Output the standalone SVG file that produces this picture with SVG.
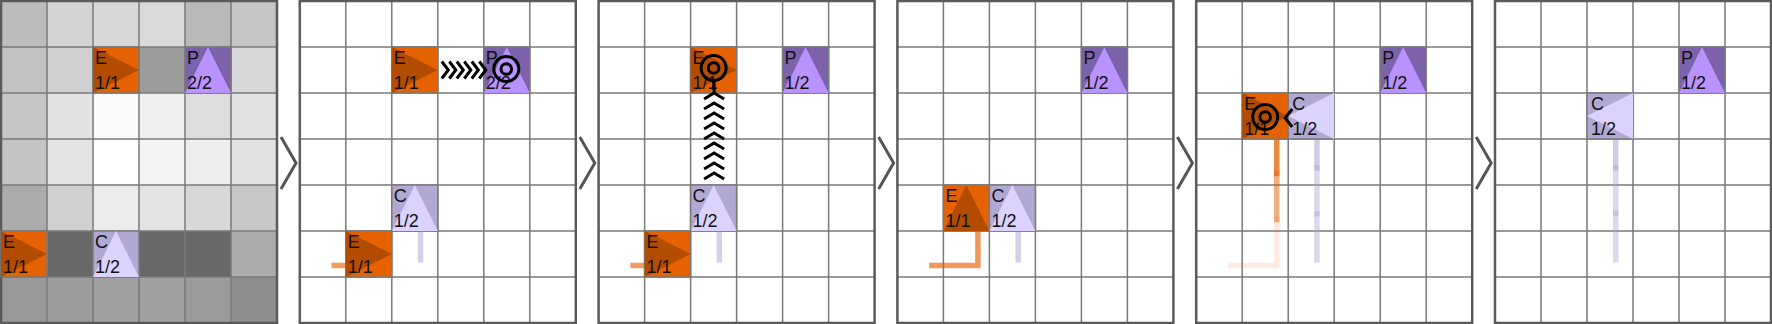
<svg xmlns="http://www.w3.org/2000/svg" width="1772" height="324" viewBox="0 0 1772 324">
<style>
.bg{fill:#ffffff}
.gl{fill:none;stroke:#7a7a7a;stroke-width:1.5}
.gb{fill:none;stroke:#5a5a5a;stroke-width:2.5}
.sep{fill:none;stroke:#555;stroke-width:3}
.eSq{fill:#e66100;stroke:#7a7a7a;stroke-width:1.5}
.eTri{fill:#b44c00}
.pSq{fill:#7b62aa;stroke:#7a7a7a;stroke-width:1.5}
.pTri{fill:#b892fd}
.cSq{fill:#b1a9d3;stroke:#7a7a7a;stroke-width:1.5}
.cTri{fill:#dcd2fe}
.lb{font-family:"Liberation Sans",Arial,sans-serif;font-size:18px;fill:#111}
.to{fill:none;stroke:#e66100;stroke-width:5.5;stroke-linecap:square}
.tc{fill:none;stroke:#aaa2d0;stroke-width:5.5;stroke-linecap:square}
.chev{fill:none;stroke:#000;stroke-width:3}
.tgt{fill:none;stroke:#000;stroke-width:3}
</style>
<defs>
<path id="gridlines" class="gl" d="M46 0V322M92 0V322M138 0V322M184 0V322M230 0V322M0 46H276M0 92H276M0 138H276M0 184H276M0 230H276M0 276H276"/>
<rect id="gridborder" class="gb" x="0" y="0" width="276" height="322"/>
<polygon id="triR" points="0,0 0,46 46,23"/>
<polygon id="triU" points="23,0 0,46 46,46"/>
<polygon id="triL" points="0,23 46,0 46,46"/>
</defs>

<!-- panel backgrounds and grids -->
<g id="panel1" transform="translate(1,1)">
<rect x="0" y="0" width="46" height="46" fill="#bcbcbc"/><rect x="46" y="0" width="46" height="46" fill="#d4d4d4"/><rect x="92" y="0" width="46" height="46" fill="#d8d8d8"/><rect x="138" y="0" width="46" height="46" fill="#d9d9d9"/><rect x="184" y="0" width="46" height="46" fill="#b9b9b9"/><rect x="230" y="0" width="46" height="46" fill="#c6c6c6"/>
<rect x="0" y="46" width="46" height="46" fill="#c2c2c2"/><rect x="46" y="46" width="46" height="46" fill="#d0d0d0"/><rect x="138" y="46" width="46" height="46" fill="#9c9c9c"/><rect x="230" y="46" width="46" height="46" fill="#d8d8d8"/>
<rect x="0" y="92" width="46" height="46" fill="#c6c6c6"/><rect x="46" y="92" width="46" height="46" fill="#e2e2e2"/><rect x="92" y="92" width="46" height="46" fill="#f9f9f9"/><rect x="138" y="92" width="46" height="46" fill="#efefef"/><rect x="184" y="92" width="46" height="46" fill="#dddddd"/><rect x="230" y="92" width="46" height="46" fill="#e2e2e2"/>
<rect x="0" y="138" width="46" height="46" fill="#c4c4c4"/><rect x="46" y="138" width="46" height="46" fill="#e4e4e4"/><rect x="92" y="138" width="46" height="46" fill="#ffffff"/><rect x="138" y="138" width="46" height="46" fill="#f4f4f4"/><rect x="184" y="138" width="46" height="46" fill="#eeeeee"/><rect x="230" y="138" width="46" height="46" fill="#e2e2e2"/>
<rect x="0" y="184" width="46" height="46" fill="#ababab"/><rect x="46" y="184" width="46" height="46" fill="#d0d0d0"/><rect x="92" y="184" width="46" height="46" fill="#ebebeb"/><rect x="138" y="184" width="46" height="46" fill="#e3e3e3"/><rect x="184" y="184" width="46" height="46" fill="#d8d8d8"/><rect x="230" y="184" width="46" height="46" fill="#c7c7c7"/>
<rect x="46" y="230" width="46" height="46" fill="#686868"/><rect x="138" y="230" width="46" height="46" fill="#686868"/><rect x="184" y="230" width="46" height="46" fill="#686868"/><rect x="230" y="230" width="46" height="46" fill="#acacac"/>
<rect x="0" y="276" width="46" height="46" fill="#999999"/><rect x="46" y="276" width="46" height="46" fill="#9c9c9c"/><rect x="92" y="276" width="46" height="46" fill="#a0a0a0"/><rect x="138" y="276" width="46" height="46" fill="#a0a0a0"/><rect x="184" y="276" width="46" height="46" fill="#9b9b9b"/><rect x="230" y="276" width="46" height="46" fill="#8d8d8d"/>
<use href="#gridlines"/><use href="#gridborder"/>
</g>
<g id="panel2" transform="translate(299.8,1)"><rect class="bg" width="276" height="322"/><use href="#gridlines"/><use href="#gridborder"/></g>
<g id="panel3" transform="translate(598.6,1)"><rect class="bg" width="276" height="322"/><use href="#gridlines"/><use href="#gridborder"/></g>
<g id="panel4" transform="translate(897.4,1)"><rect class="bg" width="276" height="322"/><use href="#gridlines"/><use href="#gridborder"/></g>
<g id="panel5" transform="translate(1196.2,1)"><rect class="bg" width="276" height="322"/><use href="#gridlines"/><use href="#gridborder"/></g>
<g id="panel6" transform="translate(1495,1)"><rect class="bg" width="276" height="322"/><use href="#gridlines"/><use href="#gridborder"/></g>

<!-- trails -->
<g id="trails">
<g transform="translate(299.8,1)">
<path class="to" stroke-opacity="0.62" d="M34.5 264.5H80.5"/>
<path class="tc" stroke-opacity="0.5" d="M120.75 212.75V258.75"/>
</g>
<g transform="translate(598.6,1)">
<path class="to" stroke-opacity="0.62" d="M34.5 264.5H80.5"/>
<path class="tc" stroke-opacity="0.5" d="M120.75 212.75V258.75"/>
</g>
<g transform="translate(897.4,1)">
<path class="to" stroke-opacity="0.65" d="M80.5 218.5V264.5H34.5"/>
<path class="tc" stroke-opacity="0.5" d="M120.75 212.75V258.75"/>
</g>
<g transform="translate(1196.2,1)">
<path class="to" stroke-opacity="0.75" d="M80.5 126.5V172.5"/>
<path class="to" stroke-opacity="0.5" d="M80.5 172.5V218.5"/>
<path class="to" stroke-opacity="0.13" d="M80.5 218.5V264.5H34.5"/>
<path class="tc" stroke-opacity="0.55" d="M120.75 120.75V166.75"/>
<path class="tc" stroke-opacity="0.42" d="M120.75 166.75V212.75"/>
<path class="tc" stroke-opacity="0.42" d="M120.75 212.75V258.75"/>
</g>
<g transform="translate(1495,1)">
<path class="tc" stroke-opacity="0.55" d="M120.75 120.75V166.75"/>
<path class="tc" stroke-opacity="0.42" d="M120.75 166.75V212.75"/>
<path class="tc" stroke-opacity="0.42" d="M120.75 212.75V258.75"/>
</g>
</g>

<!-- units: panel 1 -->
<g id="p1-E-a" transform="translate(93,47)"><rect class="eSq" width="46" height="46"/><use href="#triR" class="eTri"/><text class="lb" x="2" y="17">E</text><text class="lb" x="2" y="42">1/1</text></g>
<g id="p1-P" transform="translate(185,47)"><rect class="pSq" width="46" height="46"/><use href="#triU" class="pTri"/><text class="lb" x="2" y="17">P</text><text class="lb" x="2" y="42">2/2</text></g>
<g id="p1-E-b" transform="translate(1,231)"><rect class="eSq" width="46" height="46"/><use href="#triR" class="eTri"/><text class="lb" x="2" y="17">E</text><text class="lb" x="2" y="42">1/1</text></g>
<g id="p1-C" transform="translate(93,231)"><rect class="cSq" width="46" height="46"/><use href="#triU" class="cTri"/><text class="lb" x="2" y="17">C</text><text class="lb" x="2" y="42">1/2</text></g>

<!-- units: panel 2 -->
<g id="p2-E-a" transform="translate(391.8,47)"><rect class="eSq" width="46" height="46"/><use href="#triR" class="eTri"/><text class="lb" x="2" y="17">E</text><text class="lb" x="2" y="42">1/1</text></g>
<g id="p2-P" transform="translate(483.8,47)"><rect class="pSq" width="46" height="46"/><use href="#triU" class="pTri"/><text class="lb" x="2" y="17">P</text><text class="lb" x="2" y="42">2/2</text></g>
<g id="p2-C" transform="translate(391.8,185)"><rect class="cSq" width="46" height="46"/><use href="#triU" class="cTri"/><text class="lb" x="2" y="17">C</text><text class="lb" x="2" y="42">1/2</text></g>
<g id="p2-E-b" transform="translate(345.8,231)"><rect class="eSq" width="46" height="46"/><use href="#triR" class="eTri"/><text class="lb" x="2" y="17">E</text><text class="lb" x="2" y="42">1/1</text></g>

<!-- units: panel 3 -->
<g id="p3-E-a" transform="translate(690.6,47)"><rect class="eSq" width="46" height="46"/><use href="#triR" class="eTri"/><text class="lb" x="2" y="17">E</text><text class="lb" x="2" y="42">1/1</text></g>
<g id="p3-P" transform="translate(782.6,47)"><rect class="pSq" width="46" height="46"/><use href="#triU" class="pTri"/><text class="lb" x="2" y="17">P</text><text class="lb" x="2" y="42">1/2</text></g>
<g id="p3-C" transform="translate(690.6,185)"><rect class="cSq" width="46" height="46"/><use href="#triU" class="cTri"/><text class="lb" x="2" y="17">C</text><text class="lb" x="2" y="42">1/2</text></g>
<g id="p3-E-b" transform="translate(644.6,231)"><rect class="eSq" width="46" height="46"/><use href="#triR" class="eTri"/><text class="lb" x="2" y="17">E</text><text class="lb" x="2" y="42">1/1</text></g>

<!-- units: panel 4 -->
<g id="p4-P" transform="translate(1081.4,47)"><rect class="pSq" width="46" height="46"/><use href="#triU" class="pTri"/><text class="lb" x="2" y="17">P</text><text class="lb" x="2" y="42">1/2</text></g>
<g id="p4-E" transform="translate(943.4,185)"><rect class="eSq" width="46" height="46"/><use href="#triU" class="eTri"/><text class="lb" x="2" y="17">E</text><text class="lb" x="2" y="42">1/1</text></g>
<g id="p4-C" transform="translate(989.4,185)"><rect class="cSq" width="46" height="46"/><use href="#triU" class="cTri"/><text class="lb" x="2" y="17">C</text><text class="lb" x="2" y="42">1/2</text></g>

<!-- units: panel 5 -->
<g id="p5-P" transform="translate(1380.2,47)"><rect class="pSq" width="46" height="46"/><use href="#triU" class="pTri"/><text class="lb" x="2" y="17">P</text><text class="lb" x="2" y="42">1/2</text></g>
<g id="p5-E" transform="translate(1242.2,93)"><rect class="eSq" width="46" height="46"/><use href="#triR" class="eTri"/><text class="lb" x="2" y="17">E</text><text class="lb" x="2" y="42">1/1</text></g>
<g id="p5-C" transform="translate(1288.2,93)"><rect class="cSq" width="46" height="46"/><use href="#triL" class="cTri"/><text class="lb" x="4" y="17">C</text><text class="lb" x="4" y="42">1/2</text></g>

<!-- units: panel 6 -->
<g id="p6-P" transform="translate(1679,47)"><rect class="pSq" width="46" height="46"/><use href="#triU" class="pTri"/><text class="lb" x="2" y="17">P</text><text class="lb" x="2" y="42">1/2</text></g>
<g id="p6-C" transform="translate(1587,93)"><rect class="cSq" width="46" height="46"/><use href="#triL" class="cTri"/><text class="lb" x="4" y="17">C</text><text class="lb" x="4" y="42">1/2</text></g>

<!-- connectors: attack arrows and targets -->
<g id="connectors">
<g transform="translate(299.8,1)">
<polyline class="chev" points="142,60.5 148.5,69 142,77.5"/>
<polyline class="chev" points="149.5,60.5 156,69 149.5,77.5"/>
<polyline class="chev" points="157,60.5 163.5,69 157,77.5"/>
<polyline class="chev" points="164.5,60.5 171,69 164.5,77.5"/>
<polyline class="chev" points="172,60.5 178.5,69 172,77.5"/>
<polyline class="chev" points="179.5,60.5 186,69 179.5,77.5"/>
<circle class="tgt" cx="206.5" cy="68" r="12.5"/>
<circle class="tgt" cx="206.5" cy="68" r="5.3"/>
</g>
<g transform="translate(598.6,1)">
<circle class="tgt" cx="115" cy="67" r="12.5"/>
<circle class="tgt" cx="115" cy="67" r="5.3"/>
<line class="chev" x1="115.5" y1="80" x2="115.5" y2="92"/>
<polyline class="chev" points="105.5,98 115.5,92 125.5,98"/>
<polyline class="chev" points="105.5,108 115.5,102 125.5,108"/>
<polyline class="chev" points="105.5,118 115.5,112 125.5,118"/>
<polyline class="chev" points="105.5,128 115.5,122 125.5,128"/>
<polyline class="chev" points="105.5,138 115.5,132 125.5,138"/>
<polyline class="chev" points="105.5,148 115.5,142 125.5,148"/>
<polyline class="chev" points="105.5,158 115.5,152 125.5,158"/>
<polyline class="chev" points="105.5,168 115.5,162 125.5,168"/>
<polyline class="chev" points="105.5,178 115.5,172 125.5,178"/>
</g>
<g transform="translate(1196.2,1)">
<circle class="tgt" cx="69" cy="116" r="12.5"/>
<circle class="tgt" cx="69" cy="116" r="5.3"/>
<polyline class="chev" points="96,108 89,117 96,126"/>
</g>
</g>

<!-- step separators -->
<g id="separators">
<polyline class="sep" points="281,137 296,163 281,189"/>
<polyline class="sep" points="579.8,137 594.8,163 579.8,189"/>
<polyline class="sep" points="878.6,137 893.6,163 878.6,189"/>
<polyline class="sep" points="1177.4,137 1192.4,163 1177.4,189"/>
<polyline class="sep" points="1476.2,137 1491.2,163 1476.2,189"/>
</g>
</svg>
